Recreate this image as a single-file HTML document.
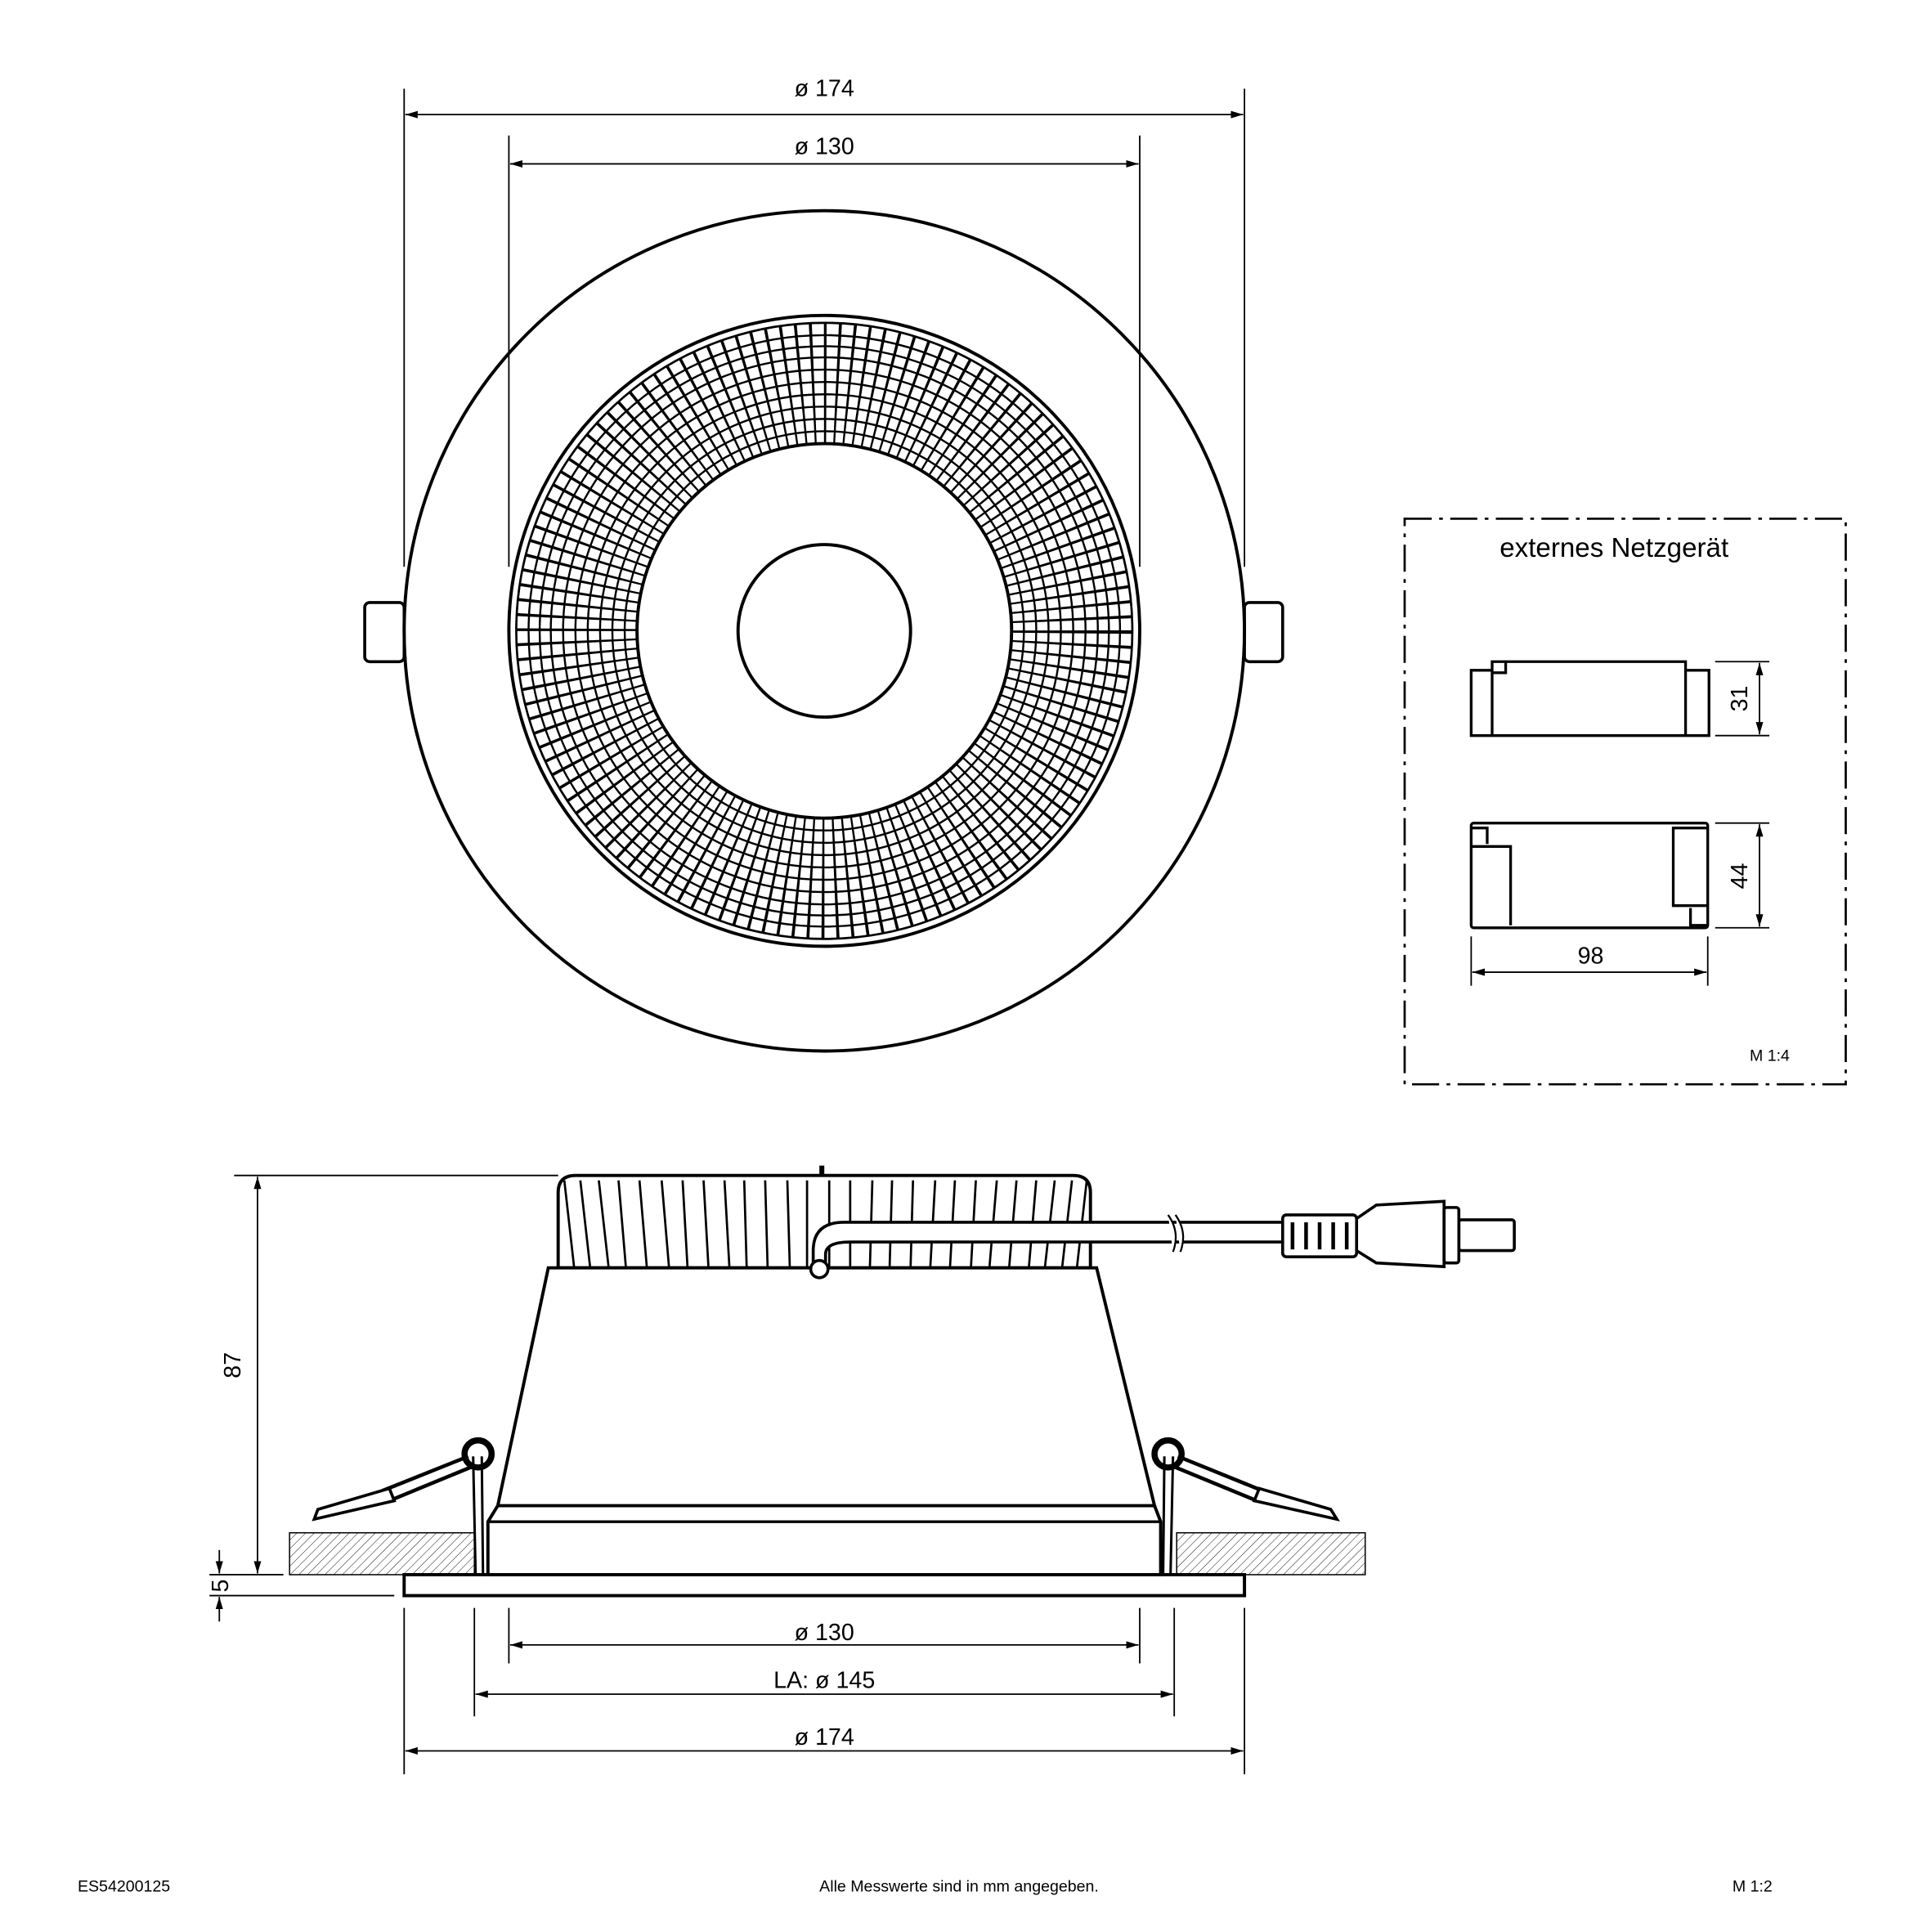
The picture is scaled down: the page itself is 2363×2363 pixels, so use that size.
<!DOCTYPE html>
<html><head><meta charset="utf-8"><style>html,body{margin:0;padding:0;background:#fff}svg{display:block}</style></head>
<body>
<svg width="2363" height="2363" viewBox="0 0 1568 1568" xmlns="http://www.w3.org/2000/svg" font-family="Liberation Sans, sans-serif">
<defs>
<marker id="a" viewBox="0 0 10 6" refX="10" refY="3" markerWidth="10" markerHeight="6" markerUnits="userSpaceOnUse" orient="auto-start-reverse"><path d="M0,0L10,3L0,6z" fill="#000"/></marker>
<pattern id="h" width="5" height="5" patternUnits="userSpaceOnUse" patternTransform="rotate(45)"><line x1="0" y1="0" x2="0" y2="5" stroke="#000" stroke-width="0.6"/></pattern>
</defs>
<g fill="none" stroke="#000">
<circle cx="669" cy="512" r="341" stroke-width="2.6"/>
<rect x="296" y="489" width="32" height="48" rx="4" stroke-width="2.4"/>
<rect x="1010" y="489" width="31" height="48" rx="4" stroke-width="2.4"/>
<circle cx="669" cy="512" r="201" stroke-width="98" pathLength="128" stroke-dasharray="0.2 0.8"/>
<g stroke-width="1.6">
<circle cx="669" cy="512" r="162"/><circle cx="669" cy="512" r="172"/><circle cx="669" cy="512" r="182"/>
<circle cx="669" cy="512" r="192"/><circle cx="669" cy="512" r="202"/><circle cx="669" cy="512" r="212"/>
<circle cx="669" cy="512" r="222"/><circle cx="669" cy="512" r="231"/><circle cx="669" cy="512" r="240"/>
</g>
<circle cx="669" cy="512" r="256" stroke-width="2.6"/>
<circle cx="669" cy="512" r="250" stroke-width="1.8"/>
<circle cx="669" cy="512" r="152" stroke-width="2.6"/>
<circle cx="669" cy="512" r="70" stroke-width="2.6"/>
<g stroke-width="1.2">
<line x1="328" y1="72" x2="328" y2="460"/><line x1="1010" y1="72" x2="1010" y2="460"/>
<line x1="413" y1="110" x2="413" y2="460"/><line x1="925" y1="110" x2="925" y2="460"/>
<line x1="329" y1="93" x2="1009" y2="93" marker-start="url(#a)" marker-end="url(#a)"/>
<line x1="414" y1="133" x2="924" y2="133" marker-start="url(#a)" marker-end="url(#a)"/>
</g>
<rect x="1140" y="421" width="358" height="459" stroke-width="1.8" stroke-dasharray="22,6,3,6"/>
<g stroke-width="2.2">
<path d="M1194,544H1211V597H1194ZM1211,597V537H1368V597M1368,544H1387V597H1194M1211,546H1222V537"/>
<rect x="1194" y="668" width="192" height="85" rx="2"/>
<path d="M1195,687H1226V751M1195,672H1207V685M1386,672H1358V735H1386M1372,737V751H1386"/>
</g>
<g stroke-width="1.2">
<line x1="1392" y1="537" x2="1436" y2="537"/><line x1="1392" y1="597" x2="1436" y2="597"/>
<line x1="1428" y1="538" x2="1428" y2="596" marker-start="url(#a)" marker-end="url(#a)"/>
<line x1="1392" y1="668" x2="1436" y2="668"/><line x1="1392" y1="753" x2="1436" y2="753"/>
<line x1="1428" y1="669" x2="1428" y2="752" marker-start="url(#a)" marker-end="url(#a)"/>
<line x1="1194" y1="760" x2="1194" y2="800"/><line x1="1386" y1="760" x2="1386" y2="800"/>
<line x1="1195" y1="789" x2="1385" y2="789" marker-start="url(#a)" marker-end="url(#a)"/>
</g>
<rect x="235" y="1244" width="150" height="34" fill="url(#h)" stroke-width="1"/>
<rect x="955" y="1244" width="153" height="34" fill="url(#h)" stroke-width="1"/>
<path d="M453,1029V968Q453,954 467,954H871Q885,954 885,968V1029Z" fill="#fff" stroke-width="2.6"/>
<path stroke-width="1.8" d="M458,958L466,1029M471,958L479,1029M486,958L494,1029M502,958L508,1029M519,958L525,1029M537,958L543,1029M554,958L558,1029M571,958L575,1029M588,958L592,1029M604,958L606,1029M621,958L623,1029M639,958L641,1029M655,958L655,1029M673,958L673,1029M690,958L690,1029M708,958L706,1029M724,958L722,1029M741,958L739,1029M759,958L755,1029M775,958L771,1029M792,958L788,1029M809,958L803,1029M825,958L819,1029M841,958L835,1029M856,958L848,1029M870,958L862,1029M882,958L874,1029"/>
<line x1="667" y1="946" x2="667" y2="954" stroke-width="4"/>
<path d="M445,1029L404,1222H937L890,1029Z" fill="#fff" stroke-width="2.6"/>
<path d="M404,1222L396,1235V1278H942V1235L937,1222" stroke-width="2.6"/>
<line x1="396" y1="1235" x2="942" y2="1235" stroke-width="2.2"/>
<rect x="328" y="1278" width="682" height="17" stroke-width="2.6"/>
<path d="M665,1025V1016Q665,1000 688,1000H1045" stroke="#fff" stroke-width="14"/>
<path d="M660,1025V1015Q660,992 685,992H1045M670,1025V1018Q670,1008 690,1008H1045" stroke-width="2.4"/>
<circle cx="665" cy="1030" r="7" stroke-width="2.4" fill="#fff"/>
<path d="M948,986Q958,1000 952,1016M954,986Q964,1000 958,1016" stroke-width="1.5" fill="#fff"/>
<rect x="1041" y="986" width="60" height="34" rx="3" stroke-width="2.4" fill="#fff"/>
<path d="M1049,992v22M1060,992v22M1071,992v22M1082,992v22M1093,992v22" stroke-width="3"/>
<path d="M1101,989L1117,978L1172,975V1028L1117,1025L1101,1015" stroke-width="2.4"/>
<rect x="1172" y="980" width="12" height="45" rx="2" stroke-width="2.4"/>
<rect x="1184" y="990" width="45" height="25" rx="2" stroke-width="2.4"/>
<circle cx="388" cy="1180" r="11" stroke-width="5"/>
<circle cx="948" cy="1180" r="11" stroke-width="5"/>
<path d="M384,1182L386,1278M391,1182L392,1278M952,1182L950,1278M945,1182L944,1278" stroke-width="2"/>
<path d="M380,1182L310,1210M384,1190L316,1218" stroke-width="3"/>
<path d="M316,1208L258,1225L255,1233L320,1218Z" stroke-width="2.4" fill="#fff"/>
<path d="M956,1182L1025,1210M952,1190L1020,1218" stroke-width="3"/>
<path d="M1022,1208L1080,1225L1085,1233L1018,1218Z" stroke-width="2.4" fill="#fff"/>
<g stroke-width="1.2">
<line x1="190" y1="954" x2="453" y2="954"/>
<line x1="170" y1="1278" x2="230" y2="1278"/><line x1="170" y1="1295" x2="320" y2="1295"/>
<line x1="209" y1="955" x2="209" y2="1277" marker-start="url(#a)" marker-end="url(#a)"/>
<line x1="178" y1="1258" x2="178" y2="1277" marker-end="url(#a)"/>
<line x1="178" y1="1316" x2="178" y2="1296" marker-end="url(#a)"/>
<line x1="328" y1="1305" x2="328" y2="1440"/><line x1="1010" y1="1305" x2="1010" y2="1440"/>
<line x1="385" y1="1305" x2="385" y2="1393"/><line x1="953" y1="1305" x2="953" y2="1393"/>
<line x1="413" y1="1305" x2="413" y2="1350"/><line x1="925" y1="1305" x2="925" y2="1350"/>
<line x1="414" y1="1335" x2="924" y2="1335" marker-start="url(#a)" marker-end="url(#a)"/>
<line x1="386" y1="1375" x2="952" y2="1375" marker-start="url(#a)" marker-end="url(#a)"/>
<line x1="329" y1="1421" x2="1009" y2="1421" marker-start="url(#a)" marker-end="url(#a)"/>
</g>
</g>
<g font-size="19" text-anchor="middle" fill="#000">
<text x="669" y="78">ø 174</text>
<text x="669" y="125">ø 130</text>
<text x="669" y="1331">ø 130</text>
<text x="669" y="1370">LA: ø 145</text>
<text x="669" y="1416">ø 174</text>
<text x="1291" y="782">98</text>
<text transform="translate(1418,567) rotate(-90)">31</text>
<text transform="translate(1418,711) rotate(-90)">44</text>
<text transform="translate(195,1108) rotate(-90)">87</text>
<text transform="translate(185,1287) rotate(-90)">5</text>
<text x="1310" y="452" font-size="22">externes Netzgerät</text>
</g>
<g font-size="13" fill="#000">
<text x="1420" y="861">M 1:4</text>
<text x="63" y="1535">ES54200125</text>
<text x="665" y="1535">Alle Messwerte sind in mm angegeben.</text>
<text x="1406" y="1535">M 1:2</text>
</g>
</svg>
</body></html>
